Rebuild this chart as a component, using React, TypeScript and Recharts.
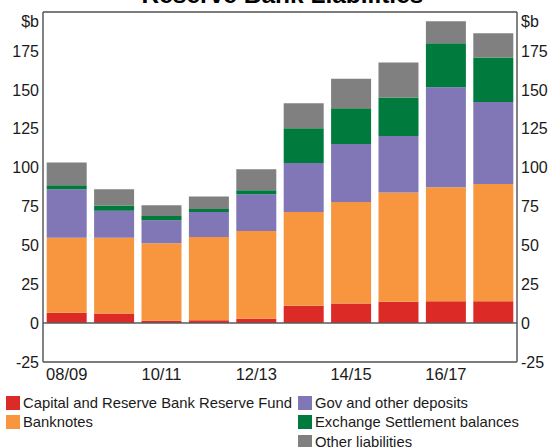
import React from "react";
import {
  BarChart,
  Bar,
  XAxis,
  YAxis,
  CartesianGrid,
  ReferenceLine,
} from "recharts";

const years = ["08/09", "09/10", "10/11", "11/12", "12/13", "13/14", "14/15", "15/16", "16/17", "17/18"];
const capital = [6.6, 6.2, 1.5, 1.9, 2.8, 11.1, 12.6, 13.8, 14.1, 14.1];
const banknotes = [48.3, 48.7, 49.8, 53.4, 56.4, 60.4, 65.3, 70.2, 73.3, 75.4];
const govDeposits = [31.2, 17.3, 14.9, 16.2, 23.7, 31.4, 37.2, 36.3, 64.3, 52.6];
const esBalances = [2.6, 3.4, 2.6, 1.8, 2.5, 22.3, 23.1, 24.8, 28.2, 28.6];
const otherLiab = [14.5, 10.5, 7.0, 8.1, 13.5, 16.2, 18.9, 22.4, 14.1, 15.6];
const yTicks = [-25, 0, 25, 50, 75, 100, 125, 150, 175, 200];
const boundaryTicks = [1, 2, 3, 4, 5, 6, 7, 8, 9];

const series = [
  { key: "capital", name: "Capital and Reserve Bank Reserve Fund", color: "#DC2B27" },
  { key: "banknotes", name: "Banknotes", color: "#F7963F" },
  { key: "gov", name: "Gov and other deposits", color: "#8177B7" },
  { key: "es", name: "Exchange Settlement balances", color: "#007A3D" },
  { key: "other", name: "Other liabilities", color: "#808080" },
];

const data = years.map((y, i) => ({
  year: y,
  capital: capital[i],
  banknotes: banknotes[i],
  gov: govDeposits[i],
  es: esBalances[i],
  other: otherLiab[i],
}));

const FONT = "'Liberation Sans', Arial, sans-serif";
const AXIS = "#5a5a5a";

const makeYTick = (anchor: "start" | "end") => (props: any) => {
  const { x, y, payload } = props;
  const isTop = payload.value === 200;
  return (
    <text
      x={x}
      y={y + (isTop ? 9 : 0)}
      dy="0.36em"
      textAnchor={anchor}
      fontSize={16}
      fontFamily={FONT}
      fill="#1a1a1a"
    >
      {isTop ? "$b" : payload.value}
    </text>
  );
};

const legendLeft = [series[0], series[1]];
const legendRight = [series[2], series[3], series[4]];

const LegendItem = ({ s }: { s: (typeof series)[number] }) => (
  <div style={{ display: "flex", alignItems: "center", height: 19.5 }}>
    <div style={{ width: 14, height: 14, background: s.color, marginRight: 3 }} />
    <span style={{ fontSize: 14.8, fontFamily: FONT, color: "#1a1a1a", whiteSpace: "nowrap" }}>{s.name}</span>
  </div>
);

export default function App() {
  return (
    <div style={{ position: "absolute", left: 0, top: 0, width: 553, height: 447, background: "#fff", overflow: "hidden" }}>
      <div
        style={{
          position: "absolute",
          left: 0,
          width: 553,
          top: -19,
          textAlign: "center",
          fontFamily: FONT,
          fontWeight: "bold",
          fontSize: 24.5,
          lineHeight: "28px",
          color: "#000",
          paddingLeft: 6,
        }}
      >
        Reserve Bank Liabilities
      </div>
      <BarChart
        width={553}
        height={447}
        data={data}
        margin={{ top: 12, right: 0, left: 0, bottom: 60 }}
        barCategoryGap="7.8%"
        style={{ position: "absolute", left: 0, top: 0 }}
      >
        <CartesianGrid horizontal vertical={false} stroke="#c4c4c4" strokeWidth={1} />
        <XAxis
          dataKey="year"
          xAxisId="cat"
          interval={1}
          tickLine={false}
          tickSize={4}
          height={25}
          axisLine={{ stroke: AXIS, strokeWidth: 1.5 }}
          tick={{ fontSize: 16.5, fontFamily: FONT, fill: "#1a1a1a" }}
        />
        <XAxis
          xAxisId="bound"
          type="number"
          domain={[0, 10]}
          ticks={boundaryTicks}
          mirror
          axisLine={false}
          tick={false}
          tickSize={7}
          tickLine={{ stroke: "#333", strokeWidth: 1.2 }}
          allowDataOverflow
        />
        <YAxis
          yAxisId="left"
          orientation="left"
          width={43}
          domain={[-25, 200]}
          ticks={yTicks}
          interval={0}
          tickLine={false}
          tickSize={2}
          tickMargin={2}
          axisLine={{ stroke: AXIS, strokeWidth: 1.5 }}
          tick={makeYTick("end")}
          allowDataOverflow
        />
        <YAxis
          yAxisId="right"
          orientation="right"
          width={36}
          domain={[-25, 200]}
          ticks={yTicks}
          interval={0}
          tickLine={false}
          tickSize={2}
          tickMargin={2}
          axisLine={{ stroke: AXIS, strokeWidth: 1.5 }}
          tick={makeYTick("start")}
          allowDataOverflow
        />
        {series.map((s) => (
          <Bar
            key={s.key}
            dataKey={s.key}
            name={s.name}
            stackId="a"
            fill={s.color}
            xAxisId="cat"
            yAxisId="left"
            isAnimationActive={false}
          />
        ))}
        <ReferenceLine y={0} yAxisId="left" xAxisId="cat" stroke={AXIS} strokeWidth={1.5} />
        <ReferenceLine y={200} yAxisId="left" xAxisId="cat" stroke={AXIS} strokeWidth={1.5} />
      </BarChart>
      <div style={{ position: "absolute", left: 6, top: 393 }}>
        {legendLeft.map((s) => (
          <LegendItem key={s.key} s={s} />
        ))}
      </div>
      <div style={{ position: "absolute", left: 298, top: 393 }}>
        {legendRight.map((s) => (
          <LegendItem key={s.key} s={s} />
        ))}
      </div>
    </div>
  );
}
